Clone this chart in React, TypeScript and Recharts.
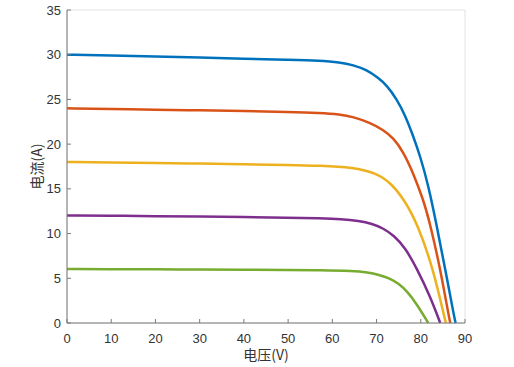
import { LineChart, Line, XAxis, YAxis, CartesianGrid } from 'recharts';

const xTicks = [0, 10, 20, 30, 40, 50, 60, 70, 80, 90];
const yTicks = [0, 5, 10, 15, 20, 25, 30, 35];

// 电压 (V) / 电流 (A) points
const blueV = [0, 10, 20, 30, 40, 50, 57.2, 61.7, 64.7, 67.8, 70.4, 72.3, 74.6, 76.4, 78.3, 79.9, 81.7, 83.4, 85.5, 87.7, 87.9];
const blueI = [30, 29.9, 29.8, 29.7, 29.55, 29.42, 29.33, 29.15, 28.85, 28.3, 27.4, 26.6, 25.0, 23.3, 20.9, 18.6, 15.4, 11.4, 6.1, 0.3, 0];

const orangeV = [0, 10, 20, 30, 40, 50, 57.2, 61.7, 64.7, 68.5, 71.5, 73.8, 76.1, 78.3, 80.6, 82.1, 84.4, 86.5, 86.7];
const orangeI = [24, 23.95, 23.85, 23.78, 23.7, 23.6, 23.5, 23.35, 23.05, 22.4, 21.6, 20.7, 19.1, 16.75, 13.75, 11.1, 6.1, 0.3, 0];

const yellowV = [0, 10, 20, 30, 40, 50, 57.2, 64.7, 70, 73.4, 76.5, 79.3, 82.8, 85.5, 85.7];
const yellowI = [18, 17.95, 17.9, 17.82, 17.75, 17.68, 17.6, 17.4, 16.75, 15.6, 13.6, 11.0, 6.1, 0.3, 0];

const purpleV = [0, 10, 20, 30, 40, 50, 57.2, 62, 66, 69, 71.5, 74, 76.5, 79.1, 82.1, 84.4];
const purpleI = [12.02, 12, 11.95, 11.9, 11.85, 11.78, 11.7, 11.62, 11.42, 11.1, 10.6, 9.75, 8.4, 6.1, 3.0, 0];

const greenV = [0, 10, 20, 30, 40, 50, 57.2, 64.7, 68, 70.5, 73, 75, 77, 79.1, 81.7];
const greenI = [6.05, 6.02, 6.0, 5.97, 5.95, 5.92, 5.9, 5.82, 5.65, 5.4, 5.0, 4.4, 3.5, 2.1, 0];

const toPoints = (v: number[], i: number[]) => v.map((x, k) => ({ v: x, i: i[k] }));

const series = [
  { name: 'blue', color: '#0072BD', data: toPoints(blueV, blueI) },
  { name: 'orange', color: '#D95319', data: toPoints(orangeV, orangeI) },
  { name: 'yellow', color: '#EDB120', data: toPoints(yellowV, yellowI) },
  { name: 'purple', color: '#7E2F8E', data: toPoints(purpleV, purpleI) },
  { name: 'green', color: '#77AC30', data: toPoints(greenV, greenI) },
];

const axisColor = '#7a7a7a';
const tickStyle = { fontSize: 13, fill: '#333', fontFamily: 'Liberation Sans, Arial, sans-serif' };
const labelFont = "'Noto Sans CJK SC', 'Liberation Sans', sans-serif";

export default function App() {
  return (
    <div style={{ position: 'absolute', left: 0, top: 0, width: 514, height: 367, background: '#fff' }}>
      <LineChart width={514} height={367} margin={{ top: 10, right: 49, left: 37, bottom: 0 }}>
        <CartesianGrid stroke="#e3e3e3" strokeWidth={1} />
        <XAxis
          xAxisId="b"
          dataKey="v"
          type="number"
          domain={[0, 90]}
          ticks={xTicks}
          allowDataOverflow
          height={44}
          stroke={axisColor}
          tickSize={-4}
          tickMargin={15}
          tick={tickStyle}
          label={{
            value: '电压(V)',
            position: 'insideBottom',
            offset: 7,
            style: { fontSize: 14, fill: '#333', fontFamily: labelFont },
          }}
        />
        <XAxis
          xAxisId="t"
          orientation="top"
          dataKey="v"
          type="number"
          domain={[0, 90]}
          ticks={xTicks}
          height={0}
          stroke={axisColor}
          tickSize={-4}
          tickFormatter={() => ''}
        />
        <YAxis
          yAxisId="l"
          type="number"
          domain={[0, 35]}
          ticks={yTicks}
          width={30}
          stroke={axisColor}
          tickSize={-4}
          tickMargin={10}
          tick={tickStyle}
          label={{
            value: '电流(A)',
            angle: -90,
            position: 'insideLeft',
            offset: 0,
            style: { fontSize: 14, fill: '#333', fontFamily: labelFont, textAnchor: 'middle' },
          }}
        />
        <YAxis
          yAxisId="r"
          orientation="right"
          type="number"
          domain={[0, 35]}
          ticks={yTicks}
          width={0}
          stroke={axisColor}
          tickSize={-4}
          tickFormatter={() => ''}
        />
        {series.map((s) => (
          <Line
            key={s.name}
            xAxisId="b"
            yAxisId="l"
            data={s.data}
            dataKey="i"
            type="basis"
            stroke={s.color}
            strokeWidth={2.5}
            dot={false}
            isAnimationActive={false}
          />
        ))}
      </LineChart>
    </div>
  );
}
